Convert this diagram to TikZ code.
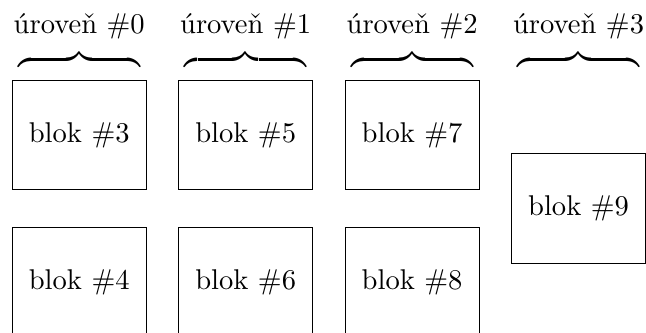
\documentclass[tikz,border=0pt]{standalone}
\usepackage{fontspec}
\usepackage{tikz}
\tikzset{
  blokbox/.style  = {draw, thin, inner sep=0pt, minimum width=1.65cm, minimum height=1.35cm},
  levellabel/.style = {anchor=base, inner sep=0pt},
  lvlbrace/.style = {anchor=base, inner sep=0pt}
}
\newcommand{\lvlbr}{$\overbrace{\hspace{42.7pt}}$}

\begin{document}
\begin{tikzpicture}[scale=1.0]
  \useasboundingbox (0,0) rectangle (7.947,4.096);
  % --- the levels, each with its brace -----------------------------------
  \node[levellabel] (u0) at (0.975,3.684) {úroveň \#0};
  \node[levellabel] (u1) at (3.022,3.684) {úroveň \#1};
  \node[levellabel] (u2) at (5.070,3.684) {úroveň \#2};
  \node[levellabel] (u3) at (7.117,3.684) {úroveň \#3};
  \node[lvlbrace] (br0) at (0.975,3.24) {\lvlbr};
  \node[lvlbrace] (br1) at (3.022,3.24) {\lvlbr};
  \node[lvlbrace] (br2) at (5.070,3.24) {\lvlbr};
  \node[lvlbrace] (br3) at (7.117,3.24) {\lvlbr};
  % --- the blocks, two per level, one in the last ------------------------
  \node[blokbox] (b3) at (0.975,2.435) {blok \#3};
  \node[blokbox] (b4) at (0.975,0.623) {blok \#4};
  \node[blokbox] (b5) at (3.022,2.435) {blok \#5};
  \node[blokbox] (b6) at (3.022,0.623) {blok \#6};
  \node[blokbox] (b7) at (5.070,2.435) {blok \#7};
  \node[blokbox] (b8) at (5.070,0.623) {blok \#8};
  \node[blokbox] (b9) at (7.117,1.529) {blok \#9};
\end{tikzpicture}
\end{document}
